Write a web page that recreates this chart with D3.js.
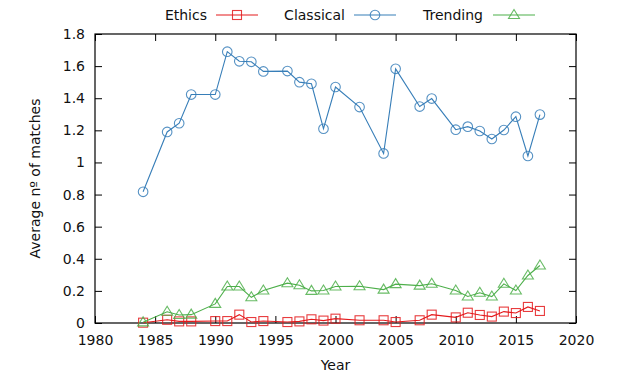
<!DOCTYPE html>
<html>
<head>
<meta charset="utf-8">
<script src="https://cdn.jsdelivr.net/npm/d3@7"></script>
<style>
  body { margin: 0; background: #fff; }
  text { font-family: "DejaVu Sans", sans-serif; fill: #111; }
</style>
</head>
<body>
<svg id="chart" width="623" height="374"></svg>
<script>
const years = [1984, 1986, 1987, 1988, 1990, 1991, 1992, 1993, 1994, 1996, 1997, 1998, 1999, 2000,
   2002, 2004, 2005, 2007, 2008, 2010, 2011, 2012, 2013, 2014, 2015, 2016, 2017];
const ethics = [0.002, 0.02, 0.01, 0.01, 0.012, 0.012, 0.052, 0.006, 0.012, 0.006, 0.01, 0.023, 0.015, 0.027,
   0.017, 0.017, 0.006, 0.017, 0.052, 0.035, 0.064, 0.05, 0.04, 0.071, 0.062, 0.1, 0.075];
const classical = [0.817, 1.19, 1.244, 1.423, 1.423, 1.69, 1.63, 1.627, 1.567, 1.569, 1.5, 1.49, 1.21, 1.47,
   1.345, 1.056, 1.583, 1.348, 1.398, 1.204, 1.223, 1.196, 1.146, 1.202, 1.285, 1.04, 1.298];
const trending = [0.004, 0.07, 0.05, 0.052, 0.119, 0.227, 0.227, 0.16, 0.202, 0.248, 0.235, 0.2, 0.202, 0.227,
   0.229, 0.208, 0.242, 0.233, 0.244, 0.202, 0.165, 0.188, 0.165, 0.244, 0.202, 0.296, 0.358];
const xTicks = [1980, 1985, 1990, 1995, 2000, 2005, 2010, 2015, 2020];
const yTicks = [0, 0.2, 0.4, 0.6, 0.8, 1, 1.2, 1.4, 1.6, 1.8];

const series = [
   {name: "Ethics", values: ethics, color: "#e41a1c", shape: "square"},
   {name: "Classical", values: classical, color: "#377eb8", shape: "circle"},
   {name: "Trending", values: trending, color: "#4daf4a", shape: "triangle"}
];

const svg = d3.select("#chart");
const plotL = 95, plotR = 576, plotT = 34, plotB = 323;
const x = d3.scaleLinear().domain([1980, 2020]).range([plotL, plotR]);
const y = d3.scaleLinear().domain([0, 1.8]).range([plotB, plotT]);

// ticks on all four sides, pointing inward
const tickLen = 7;
svg.append("g").attr("transform", `translate(0,${plotB})`)
   .call(d3.axisBottom(x).tickValues(xTicks).tickFormat(d3.format("d")).tickSize(-tickLen).tickPadding(12))
   .call(g => g.select(".domain").remove());
svg.append("g").attr("transform", `translate(0,${plotT})`)
   .call(d3.axisTop(x).tickValues(xTicks).tickFormat("").tickSize(-tickLen))
   .call(g => g.select(".domain").remove());
svg.append("g").attr("transform", `translate(${plotL},0)`)
   .call(d3.axisLeft(y).tickValues(yTicks).tickFormat(d3.format("~g")).tickSize(-tickLen).tickPadding(10))
   .call(g => g.select(".domain").remove());
svg.append("g").attr("transform", `translate(${plotR},0)`)
   .call(d3.axisRight(y).tickValues(yTicks).tickFormat("").tickSize(-tickLen))
   .call(g => g.select(".domain").remove());

svg.selectAll(".tick line").attr("stroke", "#000");
svg.selectAll(".tick text").attr("font-size", 14).attr("font-family", "DejaVu Sans, sans-serif").attr("fill", "#111");

svg.append("rect").attr("x", plotL).attr("y", plotT).attr("width", plotR - plotL).attr("height", plotB - plotT)
   .attr("fill", "none").attr("stroke", "#000").attr("stroke-width", 1.2);

function marker(sel, shape, color) {
   if (shape === "square") {
      sel.append("rect").attr("x", -4.5).attr("y", -4.5).attr("width", 9).attr("height", 9);
   } else if (shape === "circle") {
      sel.append("circle").attr("r", 4.8);
   } else {
      sel.append("path").attr("d", "M0,-5.5L5.5,3.5L-5.5,3.5Z");
   }
   sel.selectAll("*").attr("fill", "none").attr("stroke", color).attr("stroke-width", 1.1).attr("stroke-opacity", 0.85);
}

const line = d3.line().x((d, i) => x(years[i])).y(d => y(d));

series.forEach(s => {
   svg.append("path").datum(s.values).attr("d", line)
      .attr("fill", "none").attr("stroke", s.color).attr("stroke-width", 1.1);
   svg.append("g").selectAll("g").data(s.values).join("g")
      .attr("transform", (d, i) => `translate(${x(years[i])},${y(d)})`)
      .each(function() { marker(d3.select(this), s.shape, s.color); });
});

// legend
const legendPos = [{textEnd: 207, lineStart: 216}, {textEnd: 345, lineStart: 354}, {textEnd: 483, lineStart: 493}];
series.forEach((s, i) => {
   const p = legendPos[i];
   svg.append("text").attr("x", p.textEnd).attr("y", 20).attr("text-anchor", "end")
      .attr("font-size", 14).text(s.name);
   svg.append("line").attr("x1", p.lineStart).attr("x2", p.lineStart + 42).attr("y1", 15).attr("y2", 15)
      .attr("stroke", s.color).attr("stroke-width", 1.1);
   const g = svg.append("g").attr("transform", `translate(${p.lineStart + 21},15)`);
   marker(g, s.shape, s.color);
});

svg.append("text").attr("x", (plotL + plotR) / 2).attr("y", 370).attr("text-anchor", "middle")
   .attr("font-size", 14).text("Year");
svg.append("text").attr("transform", `translate(40,${(plotT + plotB) / 2}) rotate(-90)`)
   .attr("text-anchor", "middle").attr("font-size", 14).text("Average nº of matches");
</script>
</body>
</html>
